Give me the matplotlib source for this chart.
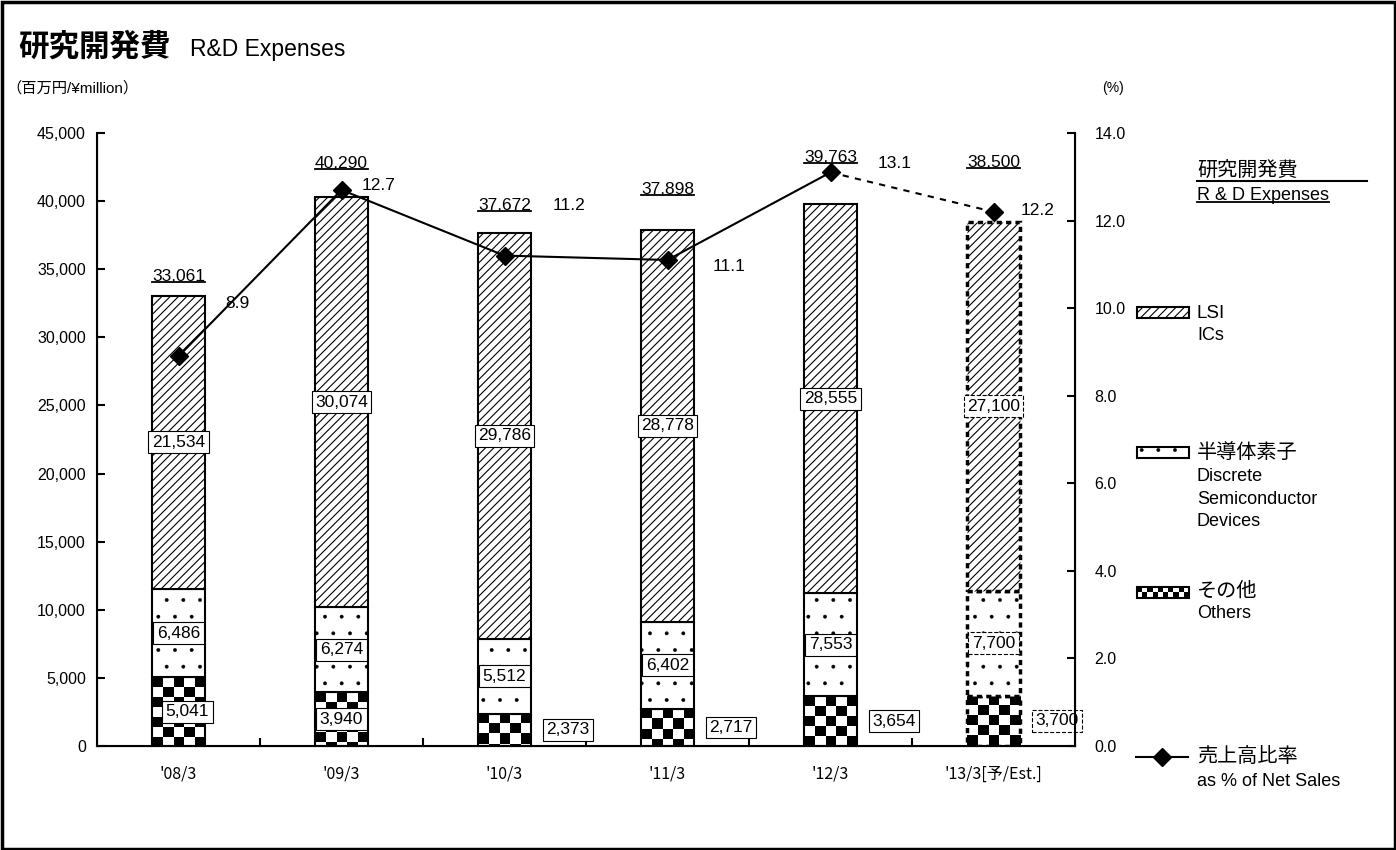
import numpy as np
import matplotlib
matplotlib.use('Agg')
import matplotlib.pyplot as plt
from matplotlib.patches import Rectangle
from matplotlib.lines import Line2D
from matplotlib.transforms import IdentityTransform
from matplotlib.ticker import FuncFormatter

plt.rcParams['font.family'] = ['Liberation Sans', 'Noto Sans CJK JP', 'DejaVu Sans']

# data (百万円 / %)
years = ["'08/3", "'09/3", "'10/3", "'11/3", "'12/3", "'13/3[予/Est.]"]
lsi = [21534, 30074, 29786, 28778, 28555, 27100]
discrete = [6486, 6274, 5512, 6402, 7553, 7700]
others = [5041, 3940, 2373, 2717, 3654, 3700]
totals = [33061, 40290, 37672, 37898, 39763, 38500]
ratio = [8.9, 12.7, 11.2, 11.1, 13.1, 12.2]


def checker(ax, bar, ncol=5, sq_h=734):
    x0, y0 = bar.get_x(), bar.get_y()
    w, h = bar.get_width(), bar.get_height()
    nrow = int(np.ceil(h / sq_h))
    grid = np.add.outer(np.arange(nrow), np.arange(ncol)) % 2
    im = ax.imshow(grid, cmap='gray', extent=(x0, x0 + w, y0 + h - nrow * sq_h, y0 + h),
                   origin='upper', aspect='auto', interpolation='nearest', zorder=2)
    im.set_clip_path(bar)


fig = plt.figure(figsize=(13.96, 8.5), dpi=100)
ax = fig.add_axes([97 / 1396, 1 - 746 / 850, 978 / 1396, 613 / 850])
ax2 = ax.twinx()

x = np.arange(len(years))
w = 0.33
bot2 = np.add(others, discrete)

b_oth = ax.bar(x, others, w, facecolor='none', edgecolor='black', lw=1.5, zorder=3)
plt.rcParams['hatch.linewidth'] = 0.3
b_dis = ax.bar(x, discrete, w, bottom=others, color='white', edgecolor='black',
               hatch='.', lw=1.5, zorder=3)
plt.rcParams['hatch.linewidth'] = 0.8
b_lsi = ax.bar(x, lsi, w, bottom=bot2, color='white', edgecolor='black',
               hatch='////', lw=1.5, zorder=3)
for bar in b_oth:
    checker(ax, bar)
for cont in (b_oth, b_dis, b_lsi):
    cont[-1].set_linestyle((0, (1.5, 1.2)))
    cont[-1].set_linewidth(2.5)

# value boxes
def box(i):
    return dict(boxstyle='square,pad=0.2', fc='white', ec='black', lw=0.8,
                ls='--' if i == len(years) - 1 else '-')

oth_dx = [0.055, 0, 0.39, 0.39, 0.39, 0.39]
for i in range(len(years)):
    ax.text(x[i], bot2[i] + lsi[i] / 2, f'{lsi[i]:,}', ha='center', va='center',
            fontsize=12.5, bbox=box(i), zorder=5)
    ax.text(x[i], others[i] + discrete[i] / 2, f'{discrete[i]:,}', ha='center', va='center',
            fontsize=12.5, bbox=box(i), zorder=5)
    ax.text(x[i] + oth_dx[i], others[i] / 2, f'{others[i]:,}', ha='center', va='center',
            fontsize=12.5, bbox=box(i), zorder=5)

tot_dy = [19, 34, 27, 40, 47, 59]
tot_txt = []
for i in range(len(years)):
    t = ax.annotate(f'{totals[i]:,}', (x[i], totals[i]), xytext=(0, tot_dy[i] * 0.72),
                    textcoords='offset points', ha='center', va='center', fontsize=12.5, zorder=5)
    tot_txt.append(t)

ax.set_xlim(-0.5, 5.5)
ax.set_ylim(0, 45000)
ax.set_yticks(np.arange(0, 45001, 5000))
ax.yaxis.set_major_formatter(FuncFormatter(lambda v, p: f'{v:,.0f}'))
ax.set_xticks(x)
ax.set_xticklabels(years, fontsize=11.5, family=['Noto Sans CJK JP'])
ax.set_xticks(np.arange(0.5, 5, 1), minor=True)
ax.tick_params(axis='x', which='major', length=0, pad=14)
ax.tick_params(axis='x', which='minor', direction='in', length=6, width=1.5)
ax.tick_params(axis='y', direction='in', length=6, width=1.5, labelsize=11.5, pad=8)
ax.spines['top'].set_visible(False)
for s in ('left', 'bottom'):
    ax.spines[s].set_linewidth(1.5)

# ratio line
ax2.plot(x[:5], ratio[:5], color='black', lw=1.5, zorder=4)
ax2.plot(x[4:], ratio[4:], color='black', lw=1.5, ls=(0, (3, 3)), zorder=4)
ax2.plot(x, ratio, ls='none', marker='D', ms=9.5, color='black', zorder=5)
r_off = [(59, 53), (37, 4), (64, 50), (62, -7), (64, 9), (44, 1)]
for i in range(len(years)):
    ax2.annotate(f'{ratio[i]:.1f}', (x[i], ratio[i]),
                 xytext=(r_off[i][0] * 0.72, r_off[i][1] * 0.72), textcoords='offset points',
                 ha='center', va='center', fontsize=12.5)
ax2.set_ylim(0, 14)
ax2.set_yticks(np.arange(0, 14.1, 2))
ax2.yaxis.set_major_formatter(FuncFormatter(lambda v, p: f'{v:.1f}'))
ax2.tick_params(axis='y', direction='in', length=6, width=1.5, labelsize=11.5, pad=14)
ax2.spines['top'].set_visible(False)
ax2.spines['right'].set_linewidth(1.5)

# overlay in pixel coords
ov = fig.add_axes([0, 0, 1, 1])
ov.set_axis_off()
ov.patch.set_visible(False)
ov.add_patch(Rectangle((1.5, 1.5), 1393, 847, fill=False, lw=2.5, ec='black'))
ov.text(18, 56, '研究開発費', fontsize=22, weight='bold', va='baseline')
ov.text(190, 56, 'R&D Expenses', fontsize=16.5, va='baseline')
ov.text(6, 88, '（百万円/¥million）', fontsize=11, va='center')
ov.text(1102, 88, '(%)', fontsize=10, va='center')

ov.text(1197, 171, '研究開発費', fontsize=14.5, va='center')
ov.plot([1197, 1367], [181, 181], color='black', lw=1.5)
hd = ov.text(1197, 195, 'R & D Expenses', fontsize=13, va='center')

plt.rcParams['hatch.linewidth'] = 0.8
ov.add_patch(Rectangle((1137, 307), 52, 11, fc='white', ec='black', hatch='////', lw=1.5))
ov.text(1197, 313, 'LSI', fontsize=13.5, va='center')
ov.text(1197, 336, 'ICs', fontsize=13, va='center')

plt.rcParams['hatch.linewidth'] = 0.3
ov.add_patch(Rectangle((1137, 447), 52, 11, fc='white', ec='black', hatch='.', lw=1.5))
ov.text(1197, 452, '半導体素子', fontsize=14.5, va='center')
ov.text(1197, 476, 'Discrete', fontsize=13, va='center')
ov.text(1197, 499, 'Semiconductor', fontsize=13, va='center')
ov.text(1197, 522, 'Devices', fontsize=13, va='center')

sw = Rectangle((1137, 587), 52, 11, fc='none', ec='black', lw=1.5, zorder=3)
ov.add_patch(sw)
g = np.add.outer(np.arange(2), np.arange(10)) % 2
ov.imshow(g, cmap='gray', extent=(1137, 1189, 598, 587), aspect='auto',
          interpolation='nearest', zorder=2)
ov.text(1197, 591, 'その他', fontsize=14.5, va='center')
ov.text(1197, 614, 'Others', fontsize=13, va='center')

ov.plot([1136, 1188], [757, 757], color='black', lw=1.5)
ov.plot([1162], [757], marker='D', ms=9.5, color='black')
ov.text(1197, 757, '売上高比率', fontsize=14.5, va='center')
ov.text(1197, 781, 'as % of Net Sales', fontsize=13, va='center')

ov.set_xlim(0, 1396)
ov.set_ylim(850, 0)

# underlines
fig.canvas.draw()
rend = fig.canvas.get_renderer()
for t in tot_txt + [hd]:
    bb = t.get_window_extent(rend)
    fig.add_artist(Line2D([bb.x0, bb.x1], [bb.y0 + 2, bb.y0 + 2], color='black', lw=1.3,
                          transform=IdentityTransform()))

fig.savefig('out.png', dpi=100)
